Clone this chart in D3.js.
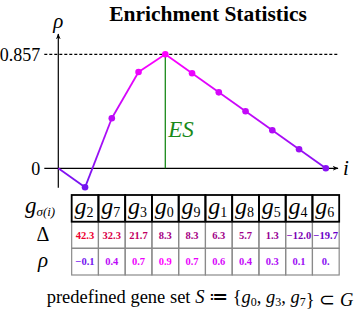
<!DOCTYPE html>
<html>
<head>
<meta charset="utf-8">
<script src="https://cdn.jsdelivr.net/npm/d3@7"></script>
<style>
  body { margin: 0; background: #fff; }
  svg { display: block; }
</style>
</head>
<body>
<div id="app"></div>
<script>
'use strict'

// ranked genes, difference of means and running enrichment score
const genes = ['2', '7', '3', '0', '9', '1', '8', '5', '4', '6']
const delta = [42.3, 32.3, 21.7, 8.3, 8.3, 6.3, 5.7, 1.3, -12.0, -19.7]
const deltaLabels = ['42.3', '32.3', '21.7', '8.3', '8.3', '6.3', '5.7', '1.3', '\u221212.0', '\u221219.7']
const rho = [-0.143, 0.376, 0.724, 0.857, 0.714, 0.571, 0.429, 0.286, 0.143, 0]
const rhoLabels = ['\u22120.1', '0.4', '0.7', '0.9', '0.7', '0.6', '0.4', '0.3', '0.1', '0.']
const yTicks = [0, 0.857]
const setGenes = ['0', '3', '7']

const SERIF = 'Liberation Serif'

const main = () => {
	const width = 358
	const height = 312

	const svg = d3.select('#app').append('svg')
		.attr('width', width)
		.attr('height', height)

	const defs = svg.append('defs')
	defs.append('marker')
		.attr('id', 'arrow')
		.attr('viewBox', '0 0 10 10')
		.attr('refX', 9).attr('refY', 5)
		.attr('markerWidth', 6).attr('markerHeight', 6)
		.attr('markerUnits', 'userSpaceOnUse')
		.attr('orient', 'auto')
		.append('path')
		.attr('d', 'M0,1 L10,5 L0,9 L3,5 Z')
		.attr('fill', '#000')

	// points: start at 0 plus one per gene
	const pts = [{ i: 0, v: 0 }].concat(rho.map((v, k) => ({ i: k + 1, v })))

	const x = d3.scaleLinear().domain([0, genes.length]).range([58.3, 325.8])
	const y = d3.scaleLinear().domain([0, d3.max(yTicks)]).range([168.3, 54.3])
	const rhoColor = d3.scaleLinear()
		.domain([d3.min(rho), d3.max(rho)])
		.range(['#7414f0', '#ff00ff'])
	const deltaColor = d3.scaleLinear()
		.domain([d3.min(delta), d3.max(delta)])
		.range(['#6a00c8', '#ee0030'])

	// title
	svg.append('text')
		.attr('x', 208).attr('y', 20.5)
		.attr('text-anchor', 'middle')
		.attr('font-family', SERIF)
		.attr('font-size', 21.5)
		.attr('font-weight', 'bold')
		.text('Enrichment Statistics')

	// y axis tick labels
	const yAxis = svg.append('g')
		.attr('transform', `translate(${x(0)},0)`)
		.call(d3.axisLeft(y).tickValues(yTicks).tickSize(14)
			.tickFormat(d => d === 0 ? '0' : d3.format('.3f')(d)))
	yAxis.attr('font-family', SERIF).attr('font-size', 18)
	yAxis.select('.domain').remove()
	yAxis.selectAll('line').remove()
	yAxis.selectAll('text')
		.attr('x', -18)
		.attr('fill', '#000')

	svg.append('line')
		.attr('x1', x(0) - 14).attr('x2', 338)
		.attr('y1', y(d3.max(yTicks))).attr('y2', y(d3.max(yTicks)))
		.attr('stroke', '#000')
		.attr('stroke-width', 1.2)
		.attr('stroke-dasharray', '3,2')

	// zero line / i axis
	svg.append('line')
		.attr('x1', x(0) - 14).attr('x2', 338)
		.attr('y1', y(0)).attr('y2', y(0))
		.attr('stroke', '#000')
		.attr('stroke-width', 1.2)
		.attr('marker-end', 'url(#arrow)')

	// rho axis
	svg.append('line')
		.attr('x1', x(0)).attr('x2', x(0))
		.attr('y1', y(d3.min(rho)) + 0.5).attr('y2', 34)
		.attr('stroke', '#000')
		.attr('stroke-width', 1.2)
		.attr('marker-end', 'url(#arrow)')

	svg.append('text')
		.attr('x', x(0)).attr('y', 28)
		.attr('text-anchor', 'middle')
		.attr('font-family', SERIF)
		.attr('font-size', 21)
		.attr('font-style', 'italic')
		.text('\u03c1')

	svg.append('text')
		.attr('x', 343).attr('y', 175)
		.attr('font-family', SERIF)
		.attr('font-size', 21)
		.attr('font-style', 'italic')
		.text('i')

	// ES line at the max
	const top = pts.reduce((a, b) => (b.v > a.v ? b : a))
	svg.append('line')
		.attr('x1', x(top.i)).attr('x2', x(top.i))
		.attr('y1', y(top.v)).attr('y2', y(0))
		.attr('stroke', '#1a8a1a')
		.attr('stroke-width', 1.3)
	svg.append('text')
		.attr('x', x(top.i) + 3).attr('y', 137)
		.attr('fill', '#1a8a1a')
		.attr('font-family', SERIF)
		.attr('font-size', 23)
		.attr('font-style', 'italic')
		.text('ES')

	// running sum segments, each with its own gradient
	const segs = d3.pairs(pts)
	segs.forEach(([a, b], k) => {
		const g = defs.append('linearGradient')
			.attr('id', `seg${k}`)
			.attr('gradientUnits', 'userSpaceOnUse')
			.attr('x1', x(a.i)).attr('y1', y(a.v))
			.attr('x2', x(b.i)).attr('y2', y(b.v))
		g.append('stop').attr('offset', 0).attr('stop-color', rhoColor(a.v))
		g.append('stop').attr('offset', 1).attr('stop-color', rhoColor(b.v))
	})

	svg.selectAll('.seg')
		.data(segs)
		.enter().append('line')
		.attr('class', 'seg')
		.attr('x1', d => x(d[0].i)).attr('y1', d => y(d[0].v))
		.attr('x2', d => x(d[1].i)).attr('y2', d => y(d[1].v) + 0.001)
		.attr('stroke', (d, k) => `url(#seg${k})`)
		.attr('stroke-width', 1.8)

	svg.selectAll('.pt')
		.data(pts.slice(1))
		.enter().append('circle')
		.attr('class', 'pt')
		.attr('cx', d => x(d.i))
		.attr('cy', d => y(d.v))
		.attr('r', 3.3)
		.attr('fill', d => rhoColor(d.v))

	// table
	const cw = x(1) - x(0)
	const rowY = [195, 221.7, 248.3, 275]

	const cols = svg.selectAll('.col')
		.data(genes)
		.enter().append('g')
		.attr('class', 'col')
		.attr('font-family', SERIF)
		.attr('transform', (d, k) => `translate(${x(k + 1) - cw / 2},0)`)

	cols.append('rect')
		.attr('y', rowY[1]).attr('width', cw).attr('height', rowY[2] - rowY[1])
		.attr('fill', 'none').attr('stroke', '#8a8a8a').attr('stroke-width', 1.2)
	cols.append('rect')
		.attr('y', rowY[2]).attr('width', cw).attr('height', rowY[3] - rowY[2])
		.attr('fill', 'none').attr('stroke', '#8a8a8a').attr('stroke-width', 1.2)
	cols.append('rect')
		.attr('y', rowY[0]).attr('width', cw).attr('height', rowY[1] - rowY[0])
		.attr('fill', 'none').attr('stroke', '#000').attr('stroke-width', 1.8)

	const head = cols.append('text')
		.attr('x', cw / 2 - 1).attr('y', 214)
		.attr('text-anchor', 'middle')
		.attr('font-size', 24)
		.attr('font-style', 'italic')
	head.append('tspan').text('g')
	head.append('tspan')
		.attr('dy', 3)
		.attr('font-size', 14)
		.attr('font-style', 'normal')
		.text(d => d)

	cols.append('text')
		.attr('x', cw / 2).attr('y', 238.5)
		.attr('text-anchor', 'middle')
		.attr('font-size', 10.5)
		.attr('font-weight', 'bold')
		.attr('fill', (d, k) => deltaColor(delta[k]))
		.text((d, k) => deltaLabels[k])

	cols.append('text')
		.attr('x', cw / 2).attr('y', 265)
		.attr('text-anchor', 'middle')
		.attr('font-size', 10.5)
		.attr('font-weight', 'bold')
		.attr('fill', (d, k) => rhoColor(rho[k]))
		.text((d, k) => rhoLabels[k])

	// row labels
	const lab = svg.append('text')
		.attr('x', 25).attr('y', 213)
		.attr('font-family', SERIF)
		.attr('font-size', 23)
		.attr('font-style', 'italic')
	lab.append('tspan').text('g')
	lab.append('tspan')
		.attr('dy', 3)
		.attr('font-size', 13)
		.text('\u03c3(i)')

	svg.append('text')
		.attr('x', 43).attr('y', 241)
		.attr('text-anchor', 'middle')
		.attr('font-family', SERIF)
		.attr('font-size', 20)
		.text('\u0394')

	svg.append('text')
		.attr('x', 43).attr('y', 267)
		.attr('text-anchor', 'middle')
		.attr('font-family', SERIF)
		.attr('font-size', 21)
		.attr('font-style', 'italic')
		.text('\u03c1')

	// caption
	const cap = svg.append('text')
		.attr('x', 200).attr('y', 303)
		.attr('text-anchor', 'middle')
		.attr('font-family', SERIF)
		.attr('font-size', 18.5)
	cap.append('tspan').text('predefined gene set ')
	cap.append('tspan').attr('font-style', 'italic').text('S')
	cap.append('tspan').text(' \u2254 {')
	setGenes.forEach((gname, k) => {
		cap.append('tspan').attr('font-style', 'italic').text('g')
		cap.append('tspan').attr('dy', 3).attr('font-size', 12).text(gname)
		cap.append('tspan').attr('dy', -3).text(k < setGenes.length - 1 ? ', ' : '')
	})
	cap.append('tspan').text('} \u2282 ')
	cap.append('tspan').attr('font-style', 'italic').text('G')
}

main()
</script>
</body>
</html>
